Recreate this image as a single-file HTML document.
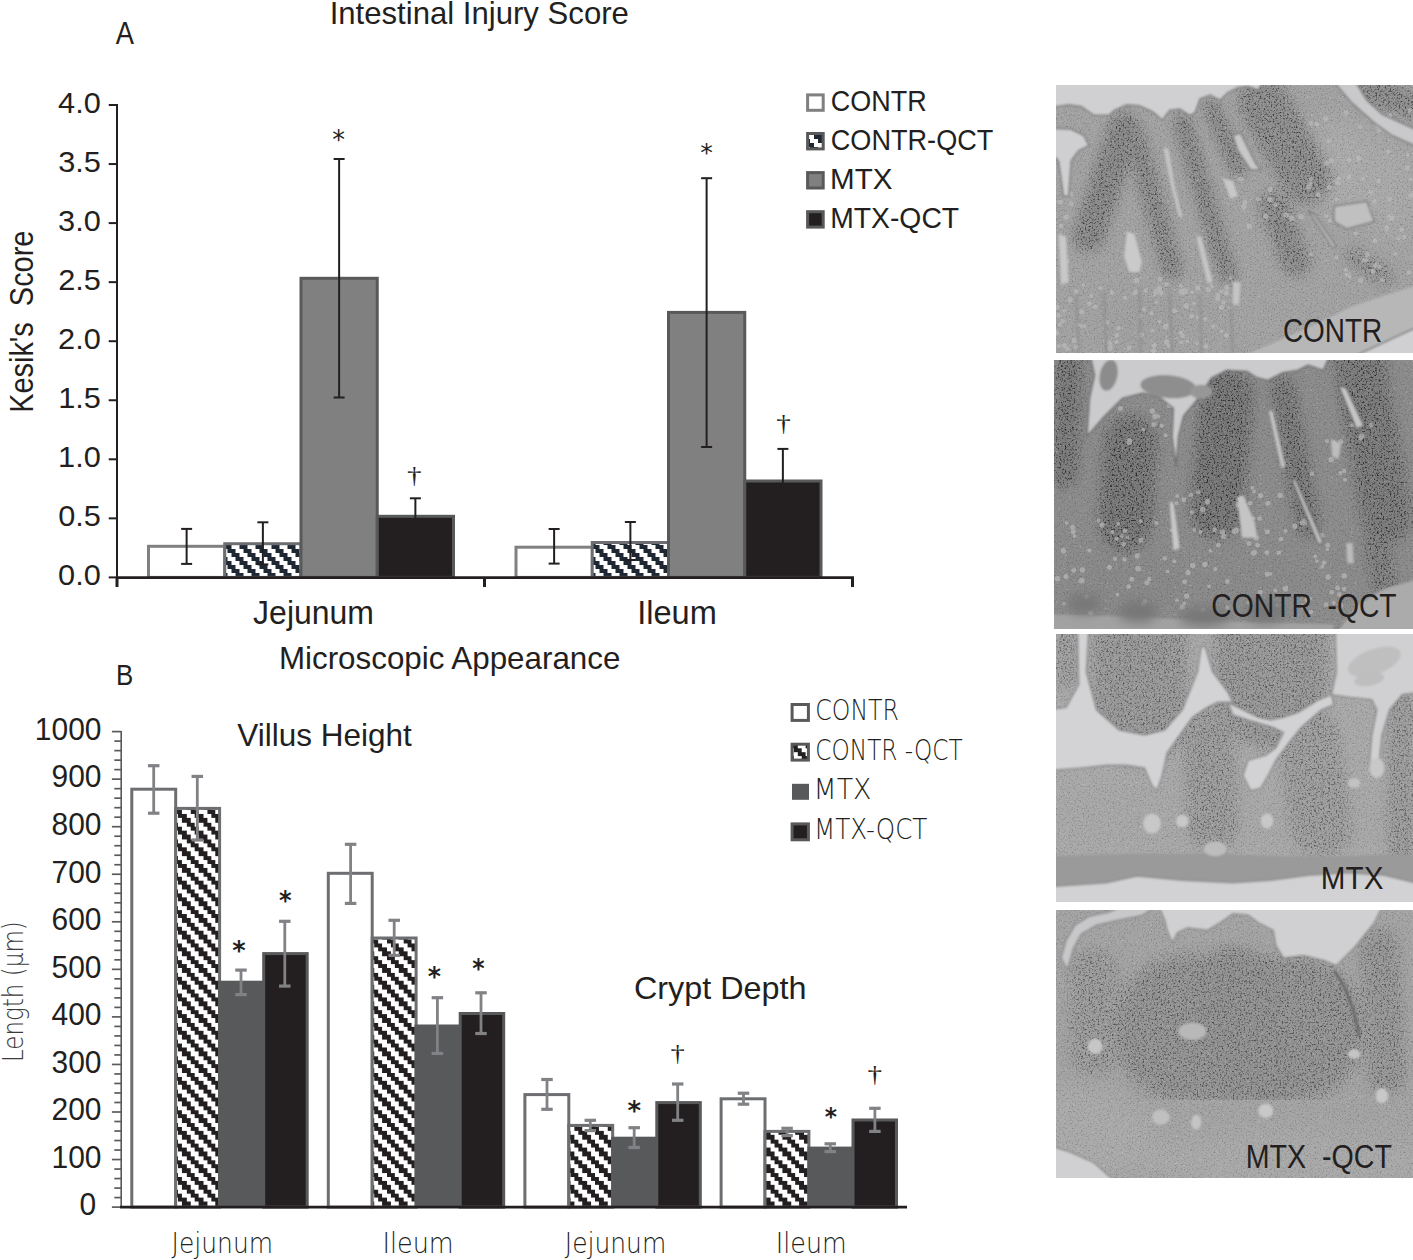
<!DOCTYPE html>
<html><head><meta charset="utf-8"><title>Intestinal Injury Score</title>
<style>
html,body{margin:0;padding:0;background:#fff;}
svg{display:block;}
text{font-family:"Liberation Sans",sans-serif;white-space:pre;}
text.l{font-family:"DejaVu Sans","Liberation Sans",sans-serif;font-weight:200;}
</style></head><body>
<svg width="1413" height="1260" viewBox="0 0 1413 1260">
<defs><pattern id="hA" patternUnits="userSpaceOnUse" x="239.5" y="545" width="16" height="16"><rect width="16" height="16" fill="#fff"/><g fill="#1f2733" shape-rendering="crispEdges"><rect x="0" y="0" width="4" height="4"/><rect x="4" y="0" width="4" height="4"/><rect x="4" y="4" width="4" height="4"/><rect x="8" y="4" width="4" height="4"/><rect x="8" y="8" width="4" height="4"/><rect x="12" y="8" width="4" height="4"/><rect x="0" y="12" width="4" height="4"/><rect x="12" y="12" width="4" height="4"/></g></pattern><pattern id="hB" patternUnits="userSpaceOnUse" x="178" y="864" width="16.68" height="16.68"><rect width="16.68" height="16.68" fill="#fff"/><g fill="#231f20" shape-rendering="crispEdges"><rect x="0.0" y="0.0" width="4.17" height="4.17"/><rect x="4.17" y="0.0" width="4.17" height="4.17"/><rect x="4.17" y="4.17" width="4.17" height="4.17"/><rect x="8.34" y="4.17" width="4.17" height="4.17"/><rect x="8.34" y="8.34" width="4.17" height="4.17"/><rect x="12.51" y="8.34" width="4.17" height="4.17"/><rect x="0.0" y="12.51" width="4.17" height="4.17"/><rect x="12.51" y="12.51" width="4.17" height="4.17"/></g></pattern><pattern id="hL" patternUnits="userSpaceOnUse" x="814" y="135" width="16" height="16"><rect width="16" height="16" fill="#fff"/><g fill="#1f2733" shape-rendering="crispEdges"><rect x="0" y="0" width="4" height="4"/><rect x="4" y="0" width="4" height="4"/><rect x="4" y="4" width="4" height="4"/><rect x="8" y="4" width="4" height="4"/><rect x="8" y="8" width="4" height="4"/><rect x="12" y="8" width="4" height="4"/><rect x="0" y="12" width="4" height="4"/><rect x="12" y="12" width="4" height="4"/></g></pattern><pattern id="hL2" patternUnits="userSpaceOnUse" x="790" y="744.4" width="15.6" height="15.6"><rect width="15.6" height="15.6" fill="#fff"/><g fill="#231f20" shape-rendering="crispEdges"><rect x="0.0" y="0.0" width="3.9" height="3.9"/><rect x="3.9" y="0.0" width="3.9" height="3.9"/><rect x="3.9" y="3.9" width="3.9" height="3.9"/><rect x="7.8" y="3.9" width="3.9" height="3.9"/><rect x="7.8" y="7.8" width="3.9" height="3.9"/><rect x="11.7" y="7.8" width="3.9" height="3.9"/><rect x="0.0" y="11.7" width="3.9" height="3.9"/><rect x="11.7" y="11.7" width="3.9" height="3.9"/></g></pattern></defs>
<rect width="1413" height="1260" fill="#fff"/>
<defs><filter id="spk" x="0" y="0" width="100%" height="100%" filterUnits="objectBoundingBox"><feTurbulence type="fractalNoise" baseFrequency="0.14" numOctaves="2" seed="4"/><feColorMatrix type="matrix" values="0 0 0 0 0  0 0 0 0 0  0 0 0 0 0  4 0 0 0 -2.1"/></filter><filter id="spk2" x="0" y="0" width="100%" height="100%" filterUnits="objectBoundingBox"><feTurbulence type="fractalNoise" baseFrequency="0.12" numOctaves="1" seed="11"/><feColorMatrix type="matrix" values="0 0 0 0 1  0 0 0 0 1  0 0 0 0 1  4 0 0 0 -2.6"/></filter><filter id="b20" x="-20%" y="-20%" width="140%" height="140%"><feGaussianBlur stdDeviation="22"/></filter><filter id="b40" x="-30%" y="-30%" width="160%" height="160%"><feGaussianBlur stdDeviation="45"/></filter><filter id="b6" x="-5%" y="-5%" width="110%" height="110%"><feGaussianBlur stdDeviation="5"/></filter><filter id="b2" x="-5%" y="-5%" width="110%" height="110%"><feGaussianBlur stdDeviation="2.5"/></filter><filter id="spk3" x="0" y="0" width="100%" height="100%" filterUnits="objectBoundingBox"><feTurbulence type="fractalNoise" baseFrequency="0.16" numOctaves="2" seed="21"/><feColorMatrix type="matrix" values="0 0 0 0 0  0 0 0 0 0  0 0 0 0 0  3 0 0 0 -1.55"/></filter><clipPath id="c0"><rect x="1056" y="85" width="357" height="268"/></clipPath><clipPath id="c1"><rect x="1054" y="360" width="359" height="269"/></clipPath><clipPath id="c2"><rect x="1056" y="634" width="357" height="268"/></clipPath><clipPath id="c3"><rect x="1056" y="910" width="357" height="268"/></clipPath><mask id="m0" maskUnits="userSpaceOnUse" x="0" y="0" width="1413" height="1063"><g filter="url(#b20)"><path d="M270,170 L130,600" stroke="#fff" stroke-width="132.0" stroke-linecap="round" fill="none"/><path d="M310,200 L460,730" stroke="#fff" stroke-width="88.0" stroke-linecap="round" fill="none"/><path d="M500,150 L680,750" stroke="#fff" stroke-width="77.0" stroke-linecap="round" fill="none"/><path d="M615,90 L720,330" stroke="#fff" stroke-width="71.5" stroke-linecap="round" fill="none"/><path d="M820,70 L990,370" stroke="#fff" stroke-width="209.00000000000003" stroke-linecap="round" fill="none"/><path d="M860,480 L950,700" stroke="#fff" stroke-width="121.00000000000001" stroke-linecap="round" fill="none"/><path d="M1240,20 L1413,80" stroke="#fff" stroke-width="121.00000000000001" stroke-linecap="round" fill="none"/><path d="M1180,680 L1300,760" stroke="#fff" stroke-width="77.0" stroke-linecap="round" fill="none"/></g></mask><mask id="m1" maskUnits="userSpaceOnUse" x="0" y="0" width="1413" height="1061"><g filter="url(#b20)"><path d="M60,0 L40,450" stroke="#fff" stroke-width="110.00000000000001" stroke-linecap="round" fill="none"/><path d="M300,320 L280,650" stroke="#fff" stroke-width="220.00000000000003" stroke-linecap="round" fill="none"/><path d="M680,140 L640,600" stroke="#fff" stroke-width="220.00000000000003" stroke-linecap="round" fill="none"/><path d="M900,110 L1000,650" stroke="#fff" stroke-width="99.00000000000001" stroke-linecap="round" fill="none"/><path d="M1200,0 L1310,620" stroke="#fff" stroke-width="209.00000000000003" stroke-linecap="round" fill="none"/><path d="M1270,720 L1300,880" stroke="#fff" stroke-width="99.00000000000001" stroke-linecap="round" fill="none"/></g></mask><mask id="m2" maskUnits="userSpaceOnUse" x="0" y="0" width="1413" height="1063"><g filter="url(#b20)"><path d="M330,0 L330,330" stroke="#fff" stroke-width="396.00000000000006" stroke-linecap="round" fill="none"/><path d="M850,0 L850,230" stroke="#fff" stroke-width="473.00000000000006" stroke-linecap="round" fill="none"/><path d="M600,360 L620,760" stroke="#fff" stroke-width="209.00000000000003" stroke-linecap="round" fill="none"/><path d="M1000,420 L1050,760" stroke="#fff" stroke-width="253.00000000000003" stroke-linecap="round" fill="none"/><path d="M1370,280 L1370,880" stroke="#fff" stroke-width="121.00000000000001" stroke-linecap="round" fill="none"/><path d="M40,0 L40,170" stroke="#fff" stroke-width="88.0" stroke-linecap="round" fill="none"/></g></mask><mask id="m3" maskUnits="userSpaceOnUse" x="0" y="0" width="1413" height="1063"><g filter="url(#b20)"><path d="M520,470 L930,470" stroke="#fff" stroke-width="616.0" stroke-linecap="round" fill="none"/><path d="M700,300 L800,650" stroke="#fff" stroke-width="330.0" stroke-linecap="round" fill="none"/><path d="M1280,150 L1310,650" stroke="#fff" stroke-width="165.0" stroke-linecap="round" fill="none"/><path d="M150,250 L150,560" stroke="#fff" stroke-width="198.00000000000003" stroke-linecap="round" fill="none"/></g></mask></defs>
<g clip-path="url(#c0)"><g transform="translate(1056,85) scale(0.25265)"><rect x="0" y="0" width="1413" height="1063" fill="#a4a4a4"/><g filter="url(#b40)"><ellipse cx="1150" cy="330" rx="150" ry="200" transform="rotate(-30 1150 330)" fill="#acacac"/><ellipse cx="1330" cy="420" rx="90" ry="200" transform="rotate(0 1330 420)" fill="#aaaaaa"/><ellipse cx="330" cy="920" rx="200" ry="120" transform="rotate(0 330 920)" fill="#a2a2a2"/></g><g filter="url(#b20)"><path d="M270,170 L130,600" stroke="#8e8e8e" stroke-width="120" stroke-linecap="round" fill="none"/><path d="M310,200 L460,730" stroke="#909090" stroke-width="80" stroke-linecap="round" fill="none"/><path d="M500,150 L680,750" stroke="#8f8f8f" stroke-width="70" stroke-linecap="round" fill="none"/><path d="M615,90 L720,330" stroke="#909090" stroke-width="65" stroke-linecap="round" fill="none"/><path d="M820,70 L990,370" stroke="#929292" stroke-width="190" stroke-linecap="round" fill="none"/><path d="M860,480 L950,700" stroke="#929292" stroke-width="110" stroke-linecap="round" fill="none"/><path d="M1240,20 L1413,80" stroke="#939393" stroke-width="110" stroke-linecap="round" fill="none"/><path d="M1180,680 L1300,760" stroke="#999999" stroke-width="70" stroke-linecap="round" fill="none"/></g><rect width="1413" height="1063" fill="#3a3a3a" filter="url(#spk)" opacity="0.55" mask="url(#m0)"/><rect width="1413" height="1063" filter="url(#spk3)" opacity="0.22"/><rect width="1413" height="1063" filter="url(#spk2)" opacity="0.35"/><g fill="#c0c0c0" opacity="0.6" filter="url(#b2)"><circle cx="102" cy="897" r="10.1"/><circle cx="494" cy="980" r="8.7"/><circle cx="560" cy="920" r="7.3"/><circle cx="319" cy="774" r="10.7"/><circle cx="663" cy="861" r="8.2"/><circle cx="538" cy="821" r="7.7"/><circle cx="132" cy="864" r="9.5"/><circle cx="674" cy="823" r="10.8"/><circle cx="389" cy="1031" r="10.3"/><circle cx="112" cy="955" r="7.5"/><circle cx="4" cy="879" r="10.1"/><circle cx="396" cy="818" r="10.4"/><circle cx="640" cy="831" r="8.8"/><circle cx="446" cy="1032" r="7.5"/><circle cx="388" cy="1052" r="9.4"/><circle cx="502" cy="993" r="9.0"/><circle cx="203" cy="938" r="9.1"/><circle cx="240" cy="1017" r="8.5"/><circle cx="338" cy="989" r="10.3"/><circle cx="623" cy="956" r="8.0"/><circle cx="593" cy="1034" r="9.9"/><circle cx="537" cy="915" r="9.0"/><circle cx="408" cy="804" r="9.7"/><circle cx="603" cy="810" r="10.0"/><circle cx="494" cy="796" r="7.2"/><circle cx="417" cy="826" r="8.2"/><circle cx="435" cy="956" r="10.0"/><circle cx="398" cy="860" r="7.1"/><circle cx="80" cy="818" r="9.1"/><circle cx="504" cy="823" r="8.6"/><circle cx="655" cy="881" r="9.9"/><circle cx="433" cy="959" r="8.9"/><circle cx="382" cy="971" r="7.6"/><circle cx="559" cy="1023" r="7.2"/><circle cx="139" cy="835" r="7.4"/><circle cx="98" cy="953" r="7.5"/><circle cx="47" cy="1045" r="8.6"/><circle cx="378" cy="903" r="8.4"/><circle cx="318" cy="818" r="9.3"/><circle cx="176" cy="804" r="7.8"/><circle cx="289" cy="1040" r="9.4"/><circle cx="687" cy="881" r="8.0"/><circle cx="497" cy="817" r="11.0"/><circle cx="273" cy="842" r="8.1"/><circle cx="213" cy="1042" r="11.0"/><circle cx="391" cy="830" r="7.0"/><circle cx="56" cy="850" r="9.6"/><circle cx="438" cy="1017" r="10.3"/><circle cx="247" cy="963" r="8.8"/><circle cx="510" cy="815" r="10.9"/><circle cx="16" cy="946" r="8.4"/><circle cx="561" cy="803" r="10.6"/><circle cx="2" cy="981" r="9.8"/><circle cx="355" cy="813" r="8.5"/><circle cx="313" cy="824" r="7.6"/><circle cx="590" cy="925" r="8.1"/><circle cx="438" cy="951" r="7.5"/><circle cx="409" cy="936" r="7.4"/><circle cx="211" cy="1020" r="9.3"/><circle cx="156" cy="878" r="8.8"/><circle cx="496" cy="1019" r="7.3"/><circle cx="33" cy="893" r="7.1"/><circle cx="108" cy="792" r="7.4"/><circle cx="438" cy="789" r="9.3"/><circle cx="676" cy="802" r="10.0"/><circle cx="409" cy="811" r="10.8"/><circle cx="516" cy="874" r="10.6"/><circle cx="73" cy="1011" r="10.4"/><circle cx="81" cy="1036" r="10.1"/><circle cx="640" cy="845" r="10.0"/><circle cx="546" cy="865" r="7.1"/><circle cx="10" cy="912" r="9.2"/><circle cx="88" cy="950" r="7.2"/><circle cx="335" cy="914" r="7.8"/><circle cx="33" cy="1032" r="10.4"/><circle cx="412" cy="769" r="9.1"/><circle cx="674" cy="991" r="9.8"/><circle cx="28" cy="934" r="7.9"/><circle cx="691" cy="763" r="7.9"/><circle cx="616" cy="796" r="8.2"/><circle cx="214" cy="1025" r="9.8"/><circle cx="654" cy="818" r="7.4"/><circle cx="240" cy="991" r="9.5"/><circle cx="655" cy="975" r="7.3"/><circle cx="221" cy="821" r="8.1"/><circle cx="467" cy="894" r="10.0"/><circle cx="11" cy="1034" r="7.6"/><circle cx="520" cy="1014" r="7.2"/><circle cx="380" cy="1053" r="7.0"/><circle cx="348" cy="888" r="8.5"/><circle cx="1080" cy="223" r="8.1"/><circle cx="1090" cy="300" r="10.6"/><circle cx="1392" cy="277" r="7.1"/><circle cx="1110" cy="682" r="7.7"/><circle cx="1273" cy="163" r="8.4"/><circle cx="1070" cy="519" r="8.5"/><circle cx="1320" cy="452" r="8.6"/><circle cx="1009" cy="670" r="7.2"/><circle cx="1206" cy="772" r="10.2"/><circle cx="1147" cy="732" r="8.0"/><circle cx="1240" cy="491" r="9.9"/><circle cx="1119" cy="370" r="8.3"/><circle cx="1379" cy="602" r="8.4"/><circle cx="1320" cy="520" r="8.0"/><circle cx="1206" cy="166" r="7.8"/><circle cx="1032" cy="155" r="9.5"/><circle cx="1343" cy="668" r="7.9"/><circle cx="1391" cy="328" r="9.8"/><circle cx="1246" cy="424" r="9.8"/><circle cx="1368" cy="573" r="9.0"/><circle cx="1356" cy="607" r="8.5"/><circle cx="1404" cy="374" r="7.2"/><circle cx="1398" cy="741" r="9.1"/><circle cx="1310" cy="573" r="7.4"/><circle cx="1329" cy="527" r="10.9"/><circle cx="1198" cy="289" r="10.1"/><circle cx="1228" cy="693" r="7.2"/><circle cx="1283" cy="719" r="7.7"/><circle cx="1037" cy="434" r="9.6"/><circle cx="1261" cy="460" r="8.4"/><circle cx="1293" cy="772" r="9.0"/><circle cx="1163" cy="759" r="7.7"/><circle cx="1232" cy="671" r="10.2"/><circle cx="1309" cy="563" r="8.8"/><circle cx="1399" cy="101" r="8.7"/><circle cx="1186" cy="588" r="8.1"/><circle cx="1082" cy="405" r="9.5"/><circle cx="1218" cy="695" r="8.9"/><circle cx="1085" cy="537" r="8.6"/><circle cx="1010" cy="373" r="7.4"/><circle cx="1264" cy="714" r="9.9"/><circle cx="1395" cy="197" r="10.3"/><circle cx="1315" cy="263" r="8.9"/><circle cx="1071" cy="310" r="9.1"/><circle cx="1160" cy="365" r="9.8"/><circle cx="1280" cy="179" r="9.3"/><circle cx="1321" cy="122" r="10.0"/><circle cx="1008" cy="391" r="8.5"/><circle cx="1008" cy="151" r="9.7"/><circle cx="1110" cy="453" r="7.7"/><circle cx="1254" cy="736" r="10.0"/><circle cx="1151" cy="751" r="8.4"/><circle cx="1115" cy="387" r="10.9"/><circle cx="1160" cy="298" r="9.2"/><circle cx="1263" cy="616" r="9.8"/><circle cx="1278" cy="380" r="8.8"/><circle cx="1405" cy="436" r="10.0"/><circle cx="1148" cy="108" r="8.6"/><circle cx="1216" cy="371" r="7.8"/><circle cx="1067" cy="134" r="9.8"/><circle cx="830" cy="519" r="10.5"/><circle cx="911" cy="515" r="10.6"/><circle cx="969" cy="520" r="10.6"/><circle cx="765" cy="559" r="10.6"/><circle cx="933" cy="527" r="10.0"/><circle cx="847" cy="454" r="10.7"/><circle cx="743" cy="482" r="10.7"/><circle cx="736" cy="374" r="8.2"/><circle cx="799" cy="452" r="7.9"/><circle cx="727" cy="372" r="8.9"/><circle cx="691" cy="418" r="7.7"/><circle cx="868" cy="476" r="7.9"/><circle cx="1000" cy="403" r="10.6"/><circle cx="748" cy="464" r="9.4"/><circle cx="848" cy="414" r="10.2"/><circle cx="37" cy="524" r="8.9"/><circle cx="17" cy="463" r="9.9"/><circle cx="43" cy="698" r="9.9"/><circle cx="60" cy="431" r="8.1"/><circle cx="60" cy="470" r="9.3"/><circle cx="52" cy="350" r="7.5"/><circle cx="28" cy="380" r="7.2"/><circle cx="43" cy="520" r="8.8"/><circle cx="38" cy="422" r="8.6"/><circle cx="20" cy="558" r="8.8"/></g><g filter="url(#b6)"><path d="M700,1089 L859,1021 L1057,934 L1156,883 L1306,831 L1443,788 L1443,952 L1147,1089Z" fill="#b7b7b7"/><path d="M1147,1089 L1443,952 L1443,1089Z" fill="#d0d0d2" stroke="#7e7e7e" stroke-width="6"/><path d="M-30,-30 L830,-30 L800,20 L760,5 L720,10 L680,30 L650,60 L610,40 L570,55 L550,110 L530,120 L490,95 L450,100 L420,140 L400,120 L380,105 L330,82 L280,78 L230,100 L210,120 L150,120 L100,85 L50,78 L-30,90Z" fill="#d0d0d2" stroke="#7e7e7e" stroke-width="6"/><path d="M1085,-30 L1175,-30 L1230,60 L1290,115 L1443,185 L1443,250 L1330,200 L1260,150 L1170,70Z" fill="#c9c9cb" stroke="#7e7e7e" stroke-width="6"/><path d="M-30,170 L60,175 L110,200 L130,240 L90,260 L60,300 L50,440 L30,440 L10,300 L-30,260Z" fill="#cfcfd1" stroke="#7e7e7e" stroke-width="6"/><path d="M425,250 L445,250 L470,400 L500,520 L488,525 L455,400Z" fill="#c4c4c4"/><path d="M700,200 L730,190 L790,310 L810,335 L770,335 L720,260Z" fill="#c8c8c8" stroke="#7e7e7e" stroke-width="6"/><path d="M660,370 L700,380 L720,440 L690,450Z" fill="#c8c8c8"/><path d="M555,600 L575,600 L620,780 L600,785Z" fill="#c6c6c6"/><path d="M280,580 L310,590 L340,700 L330,740 L290,740 L270,680Z" fill="#cacaca"/><path d="M10,590 L40,600 L50,780 L20,790Z" fill="#c8c8c8"/><path d="M1000,500 L1020,510 L1110,640 L1095,645Z" fill="#c2c2c2" stroke="#7e7e7e" stroke-width="6"/><path d="M1100,480 L1230,460 L1260,540 L1150,570 L1100,540Z" fill="#c0c0c0" stroke="#7e7e7e" stroke-width="6"/><path d="M700,780 L730,780 L725,870 L700,870Z" fill="#c4c4c4"/></g><g filter="url(#b6)" stroke="#8c8c8c" stroke-width="12" fill="none" opacity="0.55"><path d="M190,820 L200,1061"/><path d="M330,800 L335,1061"/><path d="M450,810 L460,1061"/><path d="M570,830 L575,1061"/><path d="M80,830 L90,1061"/><path d="M690,860 L700,1061"/></g></g></g>
<g clip-path="url(#c1)"><g transform="translate(1054,360) scale(0.25407)"><rect x="0" y="0" width="1413" height="1061" fill="#8d8d8d"/><g filter="url(#b40)"><ellipse cx="300" cy="860" rx="250" ry="120" transform="rotate(0 300 860)" fill="#8a8a8a"/><ellipse cx="750" cy="860" rx="250" ry="120" transform="rotate(0 750 860)" fill="#8b8b8b"/><ellipse cx="1150" cy="860" rx="150" ry="110" transform="rotate(0 1150 860)" fill="#8c8c8c"/></g><g filter="url(#b20)"><path d="M60,0 L40,450" stroke="#7f7f7f" stroke-width="100" stroke-linecap="round" fill="none"/><path d="M300,320 L280,650" stroke="#7d7d7d" stroke-width="200" stroke-linecap="round" fill="none"/><path d="M680,140 L640,600" stroke="#7c7c7c" stroke-width="200" stroke-linecap="round" fill="none"/><path d="M900,110 L1000,650" stroke="#7f7f7f" stroke-width="90" stroke-linecap="round" fill="none"/><path d="M1200,0 L1310,620" stroke="#808080" stroke-width="190" stroke-linecap="round" fill="none"/><path d="M1270,720 L1300,880" stroke="#848484" stroke-width="90" stroke-linecap="round" fill="none"/></g><rect width="1413" height="1061" fill="#3a3a3a" filter="url(#spk)" opacity="0.65" mask="url(#m1)"/><rect width="1413" height="1061" filter="url(#spk3)" opacity="0.22"/><rect width="1413" height="1061" filter="url(#spk2)" opacity="0.35"/><g fill="#c0c0c0" opacity="0.6" filter="url(#b2)"><circle cx="668" cy="694" r="10.9"/><circle cx="1063" cy="798" r="9.7"/><circle cx="247" cy="704" r="8.2"/><circle cx="796" cy="701" r="10.9"/><circle cx="81" cy="693" r="7.4"/><circle cx="885" cy="759" r="8.9"/><circle cx="375" cy="862" r="8.6"/><circle cx="240" cy="783" r="8.2"/><circle cx="127" cy="933" r="9.7"/><circle cx="765" cy="955" r="8.6"/><circle cx="436" cy="781" r="8.6"/><circle cx="769" cy="622" r="8.9"/><circle cx="615" cy="751" r="7.1"/><circle cx="810" cy="624" r="9.3"/><circle cx="176" cy="633" r="7.7"/><circle cx="76" cy="677" r="9.7"/><circle cx="838" cy="758" r="9.6"/><circle cx="546" cy="809" r="10.5"/><circle cx="358" cy="951" r="9.8"/><circle cx="786" cy="622" r="7.3"/><circle cx="37" cy="751" r="10.8"/><circle cx="1007" cy="939" r="7.5"/><circle cx="812" cy="914" r="10.2"/><circle cx="911" cy="673" r="7.7"/><circle cx="911" cy="901" r="10.6"/><circle cx="513" cy="958" r="7.6"/><circle cx="1101" cy="956" r="8.4"/><circle cx="78" cy="828" r="9.8"/><circle cx="403" cy="642" r="8.1"/><circle cx="948" cy="654" r="10.7"/><circle cx="288" cy="698" r="7.4"/><circle cx="1128" cy="962" r="8.3"/><circle cx="110" cy="868" r="10.6"/><circle cx="14" cy="861" r="10.4"/><circle cx="528" cy="836" r="10.2"/><circle cx="274" cy="724" r="9.6"/><circle cx="635" cy="823" r="8.3"/><circle cx="1078" cy="729" r="9.7"/><circle cx="1028" cy="772" r="7.2"/><circle cx="253" cy="645" r="7.6"/><circle cx="139" cy="750" r="8.5"/><circle cx="514" cy="873" r="9.7"/><circle cx="790" cy="758" r="9.7"/><circle cx="632" cy="668" r="9.2"/><circle cx="366" cy="877" r="9.9"/><circle cx="277" cy="785" r="8.8"/><circle cx="341" cy="635" r="7.2"/><circle cx="1142" cy="901" r="8.8"/><circle cx="767" cy="722" r="9.8"/><circle cx="1093" cy="914" r="8.9"/><circle cx="1131" cy="970" r="7.2"/><circle cx="474" cy="792" r="8.1"/><circle cx="709" cy="675" r="10.0"/><circle cx="986" cy="643" r="9.8"/><circle cx="306" cy="863" r="9.8"/><circle cx="1123" cy="923" r="8.4"/><circle cx="840" cy="676" r="9.9"/><circle cx="480" cy="721" r="8.0"/><circle cx="249" cy="923" r="7.4"/><circle cx="267" cy="693" r="7.6"/><circle cx="839" cy="843" r="9.7"/><circle cx="1035" cy="791" r="7.2"/><circle cx="218" cy="816" r="9.9"/><circle cx="1056" cy="814" r="7.9"/><circle cx="682" cy="975" r="8.3"/><circle cx="1071" cy="963" r="9.3"/><circle cx="553" cy="669" r="7.4"/><circle cx="47" cy="852" r="9.9"/><circle cx="1142" cy="849" r="11.0"/><circle cx="463" cy="671" r="7.2"/><circle cx="331" cy="822" r="10.9"/><circle cx="342" cy="709" r="9.9"/><circle cx="447" cy="832" r="7.6"/><circle cx="981" cy="969" r="10.0"/><circle cx="1076" cy="746" r="7.1"/><circle cx="351" cy="961" r="8.9"/><circle cx="230" cy="677" r="7.7"/><circle cx="505" cy="972" r="10.5"/><circle cx="871" cy="907" r="7.8"/><circle cx="894" cy="705" r="9.1"/><circle cx="39" cy="959" r="7.5"/><circle cx="682" cy="872" r="9.6"/><circle cx="785" cy="760" r="10.2"/><circle cx="1079" cy="854" r="10.9"/><circle cx="977" cy="641" r="9.7"/><circle cx="105" cy="871" r="8.5"/><circle cx="983" cy="637" r="10.8"/><circle cx="50" cy="642" r="7.0"/><circle cx="144" cy="995" r="10.3"/><circle cx="1054" cy="691" r="9.8"/><circle cx="914" cy="896" r="8.1"/><circle cx="1116" cy="897" r="9.7"/><circle cx="327" cy="771" r="10.0"/><circle cx="594" cy="805" r="10.7"/><circle cx="484" cy="946" r="7.2"/><circle cx="610" cy="891" r="7.0"/><circle cx="801" cy="729" r="9.5"/><circle cx="717" cy="672" r="10.8"/><circle cx="279" cy="672" r="8.8"/><circle cx="74" cy="658" r="10.0"/><circle cx="112" cy="826" r="10.5"/><circle cx="522" cy="929" r="10.3"/><circle cx="189" cy="649" r="10.1"/><circle cx="996" cy="944" r="9.9"/><circle cx="586" cy="984" r="10.0"/><circle cx="877" cy="966" r="7.2"/><circle cx="852" cy="842" r="7.1"/><circle cx="294" cy="892" r="9.1"/><circle cx="647" cy="729" r="9.3"/><circle cx="1011" cy="992" r="9.2"/><circle cx="787" cy="517" r="7.6"/><circle cx="715" cy="665" r="7.5"/><circle cx="542" cy="600" r="8.2"/><circle cx="539" cy="532" r="8.7"/><circle cx="813" cy="534" r="10.2"/><circle cx="511" cy="550" r="9.7"/><circle cx="483" cy="564" r="7.6"/><circle cx="577" cy="677" r="7.6"/><circle cx="782" cy="682" r="8.0"/><circle cx="842" cy="564" r="10.1"/><circle cx="724" cy="570" r="10.5"/><circle cx="772" cy="564" r="9.3"/><circle cx="604" cy="557" r="10.8"/><circle cx="890" cy="532" r="10.7"/><circle cx="780" cy="502" r="7.4"/><circle cx="663" cy="677" r="10.5"/><circle cx="585" cy="589" r="10.7"/><circle cx="568" cy="521" r="8.7"/><circle cx="766" cy="675" r="10.5"/><circle cx="485" cy="535" r="7.5"/><circle cx="387" cy="201" r="10.7"/><circle cx="392" cy="254" r="9.7"/><circle cx="297" cy="324" r="10.4"/><circle cx="439" cy="296" r="7.7"/><circle cx="262" cy="191" r="9.9"/><circle cx="296" cy="317" r="10.4"/><circle cx="410" cy="221" r="7.6"/><circle cx="436" cy="143" r="9.0"/><circle cx="424" cy="259" r="7.9"/><circle cx="452" cy="180" r="8.7"/><circle cx="351" cy="275" r="7.2"/><circle cx="397" cy="222" r="10.2"/><circle cx="1091" cy="393" r="10.9"/><circle cx="1015" cy="448" r="8.9"/><circle cx="1075" cy="319" r="7.9"/><circle cx="1211" cy="301" r="10.8"/><circle cx="1129" cy="321" r="10.1"/><circle cx="1145" cy="471" r="7.6"/><circle cx="1173" cy="257" r="7.7"/><circle cx="1104" cy="328" r="8.1"/><circle cx="1142" cy="437" r="8.7"/><circle cx="1127" cy="445" r="7.9"/><circle cx="1249" cy="256" r="8.5"/><circle cx="1206" cy="309" r="8.3"/></g><g filter="url(#b6)"><path d="M140,-30 L1090,-30 L1060,40 L1000,20 L960,40 L900,50 L840,80 L800,70 L760,45 L680,40 L620,70 L560,160 L510,220 L490,300 L480,420 L465,300 L470,190 L420,150 L350,130 L270,150 L200,220 L130,300 L140,150 L160,60Z" fill="#cbcbcd" stroke="#707070" stroke-width="6"/><ellipse cx="215" cy="60" rx="35" ry="62" transform="rotate(12 215 60)" fill="#8c8c8c"/><ellipse cx="450" cy="105" rx="110" ry="45" transform="rotate(5 450 105)" fill="#8e8e8e"/><ellipse cx="580" cy="125" rx="45" ry="28" transform="rotate(0 580 125)" fill="#979797"/><path d="M845,200 L860,200 L910,420 L895,425Z" fill="#c4c4c4"/><path d="M1120,100 L1150,110 L1220,260 L1190,270Z" fill="#c6c6c6" stroke="#707070" stroke-width="6"/><path d="M455,560 L470,560 L495,740 L470,750Z" fill="#c8c8c8"/><path d="M720,540 L745,530 L790,640 L800,700 L740,700Z" fill="#c4c4c4"/><path d="M935,470 L950,470 L1060,720 L1040,725Z" fill="#c0c0c0" stroke="#707070" stroke-width="6"/><path d="M1090,310 L1130,330 L1120,390 L1095,380Z" fill="#bdbdbd"/><path d="M1150,720 L1175,720 L1180,800 L1155,800Z" fill="#bbbbbb"/><path d="M1443,860 L1443,1089 L1100,1089 L1200,960 L1300,900Z" fill="#ababab"/><path d="M-30,1000 L300,1010 L700,1030 L1100,1040 L1100,1089 L-30,1089Z" fill="#a2a2a2"/></g><g filter="url(#b20)" fill="#777777"><ellipse cx="330" cy="990" rx="80" ry="45"/><ellipse cx="590" cy="1010" rx="100" ry="40"/><ellipse cx="830" cy="990" rx="80" ry="45"/><ellipse cx="120" cy="960" rx="70" ry="40"/></g></g></g>
<g clip-path="url(#c2)"><g transform="translate(1056,634) scale(0.25265)"><rect x="0" y="0" width="1413" height="1063" fill="#aaaaaa"/><g filter="url(#b40)"><ellipse cx="700" cy="700" rx="700" ry="150" transform="rotate(0 700 700)" fill="#a9a9a9"/></g><g filter="url(#b20)"><path d="M330,0 L330,330" stroke="#9d9d9d" stroke-width="360" stroke-linecap="round" fill="none"/><path d="M850,0 L850,230" stroke="#9c9c9c" stroke-width="430" stroke-linecap="round" fill="none"/><path d="M600,360 L620,760" stroke="#a0a0a0" stroke-width="190" stroke-linecap="round" fill="none"/><path d="M1000,420 L1050,760" stroke="#a2a2a2" stroke-width="230" stroke-linecap="round" fill="none"/><path d="M1370,280 L1370,880" stroke="#a0a0a0" stroke-width="110" stroke-linecap="round" fill="none"/><path d="M40,0 L40,170" stroke="#a2a2a2" stroke-width="80" stroke-linecap="round" fill="none"/></g><rect width="1413" height="1063" fill="#3a3a3a" filter="url(#spk)" opacity="0.42" mask="url(#m2)"/><rect width="1413" height="1063" filter="url(#spk3)" opacity="0.22"/><rect width="1413" height="1063" filter="url(#spk2)" opacity="0.35"/><g filter="url(#b6)"><path d="M-30,880 L300,870 L600,870 L900,880 L1100,880 L1443,870 L1443,990 L1300,955 L1150,945 L1000,955 L850,975 L700,985 L500,975 L320,958 L200,985 L-30,1000Z" fill="#9a9a9a"/><path d="M85,-30 L130,-30 L120,150 L160,300 L250,380 L350,400 L430,380 L500,300 L560,150 L575,50 L590,50 L620,150 L680,230 L700,270 L640,270 L600,290 L540,330 L490,400 L440,470 L420,560 L400,620 L380,600 L350,530 L280,520 L200,520 L100,530 L-30,540 L-30,300 L40,290 L90,200Z" fill="#d3d3d5" stroke="#8e8e8e" stroke-width="6"/><path d="M1105,-30 L1443,-30 L1443,230 L1370,240 L1320,300 L1290,400 L1280,500 L1260,540 L1240,520 L1250,400 L1270,300 L1250,260 L1160,250 L1090,240 L1110,150Z" fill="#d0d0d2" stroke="#8e8e8e" stroke-width="6"/><path d="M1090,240 L1040,260 L960,310 L900,330 L850,340 L800,330 L720,290 L680,270 L700,320 L760,340 L860,370 L900,390 L870,450 L830,480 L760,500 L740,560 L770,620 L810,610 L840,560 L870,500 L930,420 L970,370 L1050,300 L1100,280Z" fill="#d2d2d4" stroke="#8e8e8e" stroke-width="6"/><path d="M-30,1000 L200,985 L320,958 L500,975 L700,985 L850,975 L1000,955 L1150,945 L1300,955 L1443,990 L1443,1089 L-30,1089Z" fill="#d2d2d4" stroke="#8e8e8e" stroke-width="6"/><ellipse cx="380" cy="750" rx="35" ry="40" transform="rotate(0 380 750)" fill="#c8c8c8"/><ellipse cx="500" cy="740" rx="25" ry="25" transform="rotate(0 500 740)" fill="#c8c8c8"/><ellipse cx="835" cy="740" rx="25" ry="30" transform="rotate(0 835 740)" fill="#c8c8c8"/><ellipse cx="630" cy="850" rx="45" ry="30" transform="rotate(0 630 850)" fill="#bdbdbd"/><ellipse cx="1270" cy="530" rx="30" ry="40" transform="rotate(0 1270 530)" fill="#c8c8c8"/><ellipse cx="1180" cy="590" rx="25" ry="20" transform="rotate(0 1180 590)" fill="#c2c2c2"/><ellipse cx="1260" cy="110" rx="110" ry="50" transform="rotate(-20 1260 110)" fill="#bfbfbf"/><ellipse cx="1240" cy="180" rx="60" ry="25" transform="rotate(-10 1240 180)" fill="#bebebe"/></g></g></g>
<g clip-path="url(#c3)"><g transform="translate(1056,910) scale(0.25265)"><rect x="0" y="0" width="1413" height="1063" fill="#a5a5a5"/><g filter="url(#b40)"><ellipse cx="0" cy="900" rx="400" ry="200" transform="rotate(0 0 900)" fill="#ababab"/><ellipse cx="900" cy="1000" rx="600" ry="120" transform="rotate(0 900 1000)" fill="#aaaaaa"/></g><g filter="url(#b20)"><path d="M520,470 L930,470" stroke="#989898" stroke-width="560" stroke-linecap="round" fill="none"/><path d="M700,300 L800,650" stroke="#969696" stroke-width="300" stroke-linecap="round" fill="none"/><path d="M1280,150 L1310,650" stroke="#9b9b9b" stroke-width="150" stroke-linecap="round" fill="none"/><path d="M150,250 L150,560" stroke="#a0a0a0" stroke-width="180" stroke-linecap="round" fill="none"/></g><rect width="1413" height="1063" fill="#3a3a3a" filter="url(#spk)" opacity="0.45" mask="url(#m3)"/><rect width="1413" height="1063" filter="url(#spk3)" opacity="0.22"/><rect width="1413" height="1063" filter="url(#spk2)" opacity="0.35"/><g filter="url(#b6)"><path d="M400,-30 L1300,-30 L1260,50 L1180,150 L1110,220 L1060,200 L980,180 L900,190 L870,140 L860,80 L800,50 L760,20 L700,15 L650,50 L600,80 L520,70 L480,90 L460,130 L440,80 L430,40Z" fill="#d0d0d2" stroke="#8e8e8e" stroke-width="6"/><path d="M45,235 L70,150 L100,95 L160,60 L250,40 L340,22 L420,-30 L290,-30 L210,8 L130,25 L75,60 L40,120 L20,190Z" fill="#c8c8ca" stroke="#8e8e8e" stroke-width="6"/><path d="M-30,930 L60,960 L150,1000 L250,1089 L-30,1089Z" fill="#d0d0d2" stroke="#8e8e8e" stroke-width="6"/><ellipse cx="540" cy="480" rx="55" ry="35" transform="rotate(0 540 480)" fill="#b8b8b8"/><ellipse cx="155" cy="540" rx="30" ry="30" transform="rotate(0 155 540)" fill="#c6c6c6"/><ellipse cx="415" cy="820" rx="35" ry="30" transform="rotate(0 415 820)" fill="#c0c0c0"/><ellipse cx="830" cy="795" rx="30" ry="28" transform="rotate(0 830 795)" fill="#c8c8c8"/><ellipse cx="1290" cy="735" rx="25" ry="30" transform="rotate(0 1290 735)" fill="#c8c8c8"/><ellipse cx="555" cy="840" rx="20" ry="30" transform="rotate(0 555 840)" fill="#c4c4c4"/><ellipse cx="1180" cy="570" rx="25" ry="20" transform="rotate(0 1180 570)" fill="#c4c4c4"/></g><path d="M1100,240 Q1170,330 1200,500" stroke="#6a6a6a" stroke-width="12" fill="none" filter="url(#b6)"/></g></g>
<text x="1282.88" y="341.60" font-size="32.41" textLength="99.31" lengthAdjust="spacingAndGlyphs" fill="#231f20">CONTR</text>
<text x="1211.36" y="616.50" font-size="32.85" textLength="185.28" lengthAdjust="spacingAndGlyphs" fill="#231f20">CONTR  -QCT</text>
<text x="1320.87" y="888.90" font-size="31.98" textLength="62.55" lengthAdjust="spacingAndGlyphs" fill="#231f20">MTX</text>
<text x="1245.75" y="1167.80" font-size="32.41" textLength="146.20" lengthAdjust="spacingAndGlyphs" fill="#231f20">MTX  -QCT</text>
<text x="115.85" y="44.00" font-size="31.98" textLength="18.21" lengthAdjust="spacingAndGlyphs" fill="#231f20">A</text>
<text x="329.63" y="23.80" font-size="31.25" textLength="299.25" lengthAdjust="spacingAndGlyphs" fill="#231f20">Intestinal Injury Score</text>
<line x1="108.7" y1="577.40" x2="117" y2="577.40" stroke="#231f20" stroke-width="2"/>
<text x="58.09" y="585.20" font-size="30.08" textLength="42.71" lengthAdjust="spacingAndGlyphs" fill="#231f20">0.0</text>
<line x1="108.7" y1="518.35" x2="117" y2="518.35" stroke="#231f20" stroke-width="2"/>
<text x="58.18" y="526.15" font-size="30.08" textLength="42.71" lengthAdjust="spacingAndGlyphs" fill="#231f20">0.5</text>
<line x1="108.7" y1="459.30" x2="117" y2="459.30" stroke="#231f20" stroke-width="2"/>
<text x="58.09" y="467.10" font-size="30.08" textLength="42.71" lengthAdjust="spacingAndGlyphs" fill="#231f20">1.0</text>
<line x1="108.7" y1="400.25" x2="117" y2="400.25" stroke="#231f20" stroke-width="2"/>
<text x="58.18" y="408.05" font-size="30.08" textLength="42.71" lengthAdjust="spacingAndGlyphs" fill="#231f20">1.5</text>
<line x1="108.7" y1="341.20" x2="117" y2="341.20" stroke="#231f20" stroke-width="2"/>
<text x="58.09" y="349.00" font-size="30.08" textLength="42.71" lengthAdjust="spacingAndGlyphs" fill="#231f20">2.0</text>
<line x1="108.7" y1="282.15" x2="117" y2="282.15" stroke="#231f20" stroke-width="2"/>
<text x="58.18" y="289.95" font-size="30.08" textLength="42.71" lengthAdjust="spacingAndGlyphs" fill="#231f20">2.5</text>
<line x1="108.7" y1="223.10" x2="117" y2="223.10" stroke="#231f20" stroke-width="2"/>
<text x="58.09" y="230.90" font-size="30.08" textLength="42.71" lengthAdjust="spacingAndGlyphs" fill="#231f20">3.0</text>
<line x1="108.7" y1="164.05" x2="117" y2="164.05" stroke="#231f20" stroke-width="2"/>
<text x="58.18" y="171.85" font-size="30.08" textLength="42.71" lengthAdjust="spacingAndGlyphs" fill="#231f20">3.5</text>
<line x1="108.7" y1="105.00" x2="117" y2="105.00" stroke="#231f20" stroke-width="2"/>
<text x="58.09" y="112.80" font-size="30.08" textLength="42.71" lengthAdjust="spacingAndGlyphs" fill="#231f20">4.0</text>
<line x1="117" y1="104" x2="117" y2="579" stroke="#231f20" stroke-width="2"/>
<rect x="148.50" y="546.30" width="76.25" height="31.10" fill="#ffffff" stroke="#808080" stroke-width="3"/>
<rect x="224.75" y="543.70" width="76.25" height="33.70" fill="url(#hA)" stroke="#6d6e71" stroke-width="3"/>
<rect x="301.00" y="278.30" width="76.25" height="299.10" fill="#808080" stroke="#58595b" stroke-width="3"/>
<rect x="377.25" y="516.30" width="76.25" height="61.10" fill="#231f20" stroke="#58595b" stroke-width="3"/>
<rect x="516.00" y="547.20" width="76.25" height="30.20" fill="#ffffff" stroke="#808080" stroke-width="3"/>
<rect x="592.25" y="542.50" width="76.25" height="34.90" fill="url(#hA)" stroke="#6d6e71" stroke-width="3"/>
<rect x="668.50" y="312.40" width="76.25" height="265.00" fill="#808080" stroke="#58595b" stroke-width="3"/>
<rect x="744.75" y="481.00" width="76.25" height="96.40" fill="#231f20" stroke="#58595b" stroke-width="3"/>
<line x1="186.62" y1="528.90" x2="186.62" y2="563.90" stroke="#231f20" stroke-width="2"/>
<line x1="181.12" y1="528.90" x2="192.12" y2="528.90" stroke="#231f20" stroke-width="2"/>
<line x1="181.12" y1="563.90" x2="192.12" y2="563.90" stroke="#231f20" stroke-width="2"/>
<line x1="262.88" y1="522.30" x2="262.88" y2="564.40" stroke="#231f20" stroke-width="2"/>
<line x1="257.38" y1="522.30" x2="268.38" y2="522.30" stroke="#231f20" stroke-width="2"/>
<line x1="257.38" y1="564.40" x2="268.38" y2="564.40" stroke="#231f20" stroke-width="2"/>
<line x1="339.12" y1="159.00" x2="339.12" y2="397.50" stroke="#231f20" stroke-width="2"/>
<line x1="333.62" y1="159.00" x2="344.62" y2="159.00" stroke="#231f20" stroke-width="2"/>
<line x1="333.62" y1="397.50" x2="344.62" y2="397.50" stroke="#231f20" stroke-width="2"/>
<line x1="415.38" y1="498.30" x2="415.38" y2="533.00" stroke="#231f20" stroke-width="2"/>
<line x1="409.88" y1="498.30" x2="420.88" y2="498.30" stroke="#231f20" stroke-width="2"/>
<line x1="409.88" y1="533.00" x2="420.88" y2="533.00" stroke="#231f20" stroke-width="2"/>
<line x1="554.12" y1="529.00" x2="554.12" y2="563.60" stroke="#231f20" stroke-width="2"/>
<line x1="548.62" y1="529.00" x2="559.62" y2="529.00" stroke="#231f20" stroke-width="2"/>
<line x1="548.62" y1="563.60" x2="559.62" y2="563.60" stroke="#231f20" stroke-width="2"/>
<line x1="630.38" y1="522.00" x2="630.38" y2="560.00" stroke="#231f20" stroke-width="2"/>
<line x1="624.88" y1="522.00" x2="635.88" y2="522.00" stroke="#231f20" stroke-width="2"/>
<line x1="624.88" y1="560.00" x2="635.88" y2="560.00" stroke="#231f20" stroke-width="2"/>
<line x1="706.62" y1="178.20" x2="706.62" y2="447.00" stroke="#231f20" stroke-width="2"/>
<line x1="701.12" y1="178.20" x2="712.12" y2="178.20" stroke="#231f20" stroke-width="2"/>
<line x1="701.12" y1="447.00" x2="712.12" y2="447.00" stroke="#231f20" stroke-width="2"/>
<line x1="782.88" y1="448.90" x2="782.88" y2="510.00" stroke="#231f20" stroke-width="2"/>
<line x1="777.38" y1="448.90" x2="788.38" y2="448.90" stroke="#231f20" stroke-width="2"/>
<line x1="777.38" y1="510.00" x2="788.38" y2="510.00" stroke="#231f20" stroke-width="2"/>
<line x1="116" y1="577.6" x2="854" y2="577.6" stroke="#231f20" stroke-width="2.6"/>
<line x1="117" y1="577" x2="117" y2="587" stroke="#231f20" stroke-width="3"/>
<line x1="484.5" y1="577" x2="484.5" y2="587" stroke="#231f20" stroke-width="3"/>
<line x1="852.5" y1="577" x2="852.5" y2="587" stroke="#231f20" stroke-width="3"/>
<text x="332.01" y="149.35" font-size="26.75" style='font-family:"DejaVu Sans",sans-serif;' transform="translate(338.70,0) scale(0.951,1) translate(-338.70,0)" fill="#231f20">*</text>
<text x="700.19" y="161.24" font-size="25.65" style='font-family:"DejaVu Sans",sans-serif;' transform="translate(706.60,0) scale(0.982,1) translate(-706.60,0)" fill="#231f20">*</text>
<text x="408.48" y="482.83" font-size="23.67" style='font-family:"Liberation Serif",serif;' transform="translate(414.40,0) scale(1.233,1) translate(-414.40,0)" fill="#231f20">†</text>
<text x="777.71" y="430.54" font-size="23.55" style='font-family:"Liberation Serif",serif;' transform="translate(783.60,0) scale(1.240,1) translate(-783.60,0)" fill="#231f20">†</text>
<text transform="translate(33.30,0) rotate(-90)" x="-412.87" y="0" font-size="32.70" textLength="182.26" lengthAdjust="spacingAndGlyphs" fill="#231f20">Kesik's  Score</text>
<text x="253.10" y="624.00" font-size="32.99" textLength="120.91" lengthAdjust="spacingAndGlyphs" fill="#231f20">Jejunum</text>
<text x="637.19" y="623.80" font-size="32.41" textLength="79.65" lengthAdjust="spacingAndGlyphs" fill="#231f20">Ileum</text>
<rect x="807.6" y="94.90" width="15.6" height="15.4" fill="#ffffff" stroke="#808080" stroke-width="3"/>
<rect x="807.6" y="133.50" width="15.6" height="15.4" fill="url(#hL)" stroke="#58595b" stroke-width="3"/>
<rect x="807.6" y="172.60" width="15.6" height="15.4" fill="#808080" stroke="#58595b" stroke-width="3"/>
<rect x="807.6" y="211.70" width="15.6" height="15.4" fill="#231f20" stroke="#58595b" stroke-width="3"/>
<text x="830.83" y="110.90" font-size="29.80" textLength="95.92" lengthAdjust="spacingAndGlyphs" fill="#231f20">CONTR</text>
<text x="830.82" y="149.80" font-size="29.80" textLength="162.50" lengthAdjust="spacingAndGlyphs" fill="#231f20">CONTR-QCT</text>
<text x="830.07" y="188.50" font-size="29.80" textLength="62.45" lengthAdjust="spacingAndGlyphs" fill="#231f20">MTX</text>
<text x="830.18" y="227.60" font-size="29.80" textLength="128.97" lengthAdjust="spacingAndGlyphs" fill="#231f20">MTX-QCT</text>
<text x="116.07" y="684.90" font-size="30.23" textLength="17.29" lengthAdjust="spacingAndGlyphs" fill="#231f20">B</text>
<text x="278.94" y="668.50" font-size="30.52" textLength="341.44" lengthAdjust="spacingAndGlyphs" fill="#231f20">Microscopic Appearance</text>
<text x="237.36" y="746.10" font-size="31.98" textLength="174.47" lengthAdjust="spacingAndGlyphs" fill="#231f20">Villus Height</text>
<text x="633.96" y="999.00" font-size="31.98" textLength="172.64" lengthAdjust="spacingAndGlyphs" fill="#231f20">Crypt Depth</text>
<line x1="111.9" y1="1207.10" x2="121" y2="1207.10" stroke="#5a5b5d" stroke-width="1.7"/>
<line x1="114.3" y1="1197.59" x2="121" y2="1197.59" stroke="#5a5b5d" stroke-width="1.7"/>
<line x1="114.3" y1="1188.08" x2="121" y2="1188.08" stroke="#5a5b5d" stroke-width="1.7"/>
<line x1="114.3" y1="1178.57" x2="121" y2="1178.57" stroke="#5a5b5d" stroke-width="1.7"/>
<line x1="114.3" y1="1169.06" x2="121" y2="1169.06" stroke="#5a5b5d" stroke-width="1.7"/>
<line x1="111.9" y1="1159.55" x2="121" y2="1159.55" stroke="#5a5b5d" stroke-width="1.7"/>
<line x1="114.3" y1="1150.04" x2="121" y2="1150.04" stroke="#5a5b5d" stroke-width="1.7"/>
<line x1="114.3" y1="1140.53" x2="121" y2="1140.53" stroke="#5a5b5d" stroke-width="1.7"/>
<line x1="114.3" y1="1131.02" x2="121" y2="1131.02" stroke="#5a5b5d" stroke-width="1.7"/>
<line x1="114.3" y1="1121.51" x2="121" y2="1121.51" stroke="#5a5b5d" stroke-width="1.7"/>
<line x1="111.9" y1="1112.00" x2="121" y2="1112.00" stroke="#5a5b5d" stroke-width="1.7"/>
<line x1="114.3" y1="1102.49" x2="121" y2="1102.49" stroke="#5a5b5d" stroke-width="1.7"/>
<line x1="114.3" y1="1092.98" x2="121" y2="1092.98" stroke="#5a5b5d" stroke-width="1.7"/>
<line x1="114.3" y1="1083.47" x2="121" y2="1083.47" stroke="#5a5b5d" stroke-width="1.7"/>
<line x1="114.3" y1="1073.96" x2="121" y2="1073.96" stroke="#5a5b5d" stroke-width="1.7"/>
<line x1="111.9" y1="1064.45" x2="121" y2="1064.45" stroke="#5a5b5d" stroke-width="1.7"/>
<line x1="114.3" y1="1054.94" x2="121" y2="1054.94" stroke="#5a5b5d" stroke-width="1.7"/>
<line x1="114.3" y1="1045.43" x2="121" y2="1045.43" stroke="#5a5b5d" stroke-width="1.7"/>
<line x1="114.3" y1="1035.92" x2="121" y2="1035.92" stroke="#5a5b5d" stroke-width="1.7"/>
<line x1="114.3" y1="1026.41" x2="121" y2="1026.41" stroke="#5a5b5d" stroke-width="1.7"/>
<line x1="111.9" y1="1016.90" x2="121" y2="1016.90" stroke="#5a5b5d" stroke-width="1.7"/>
<line x1="114.3" y1="1007.39" x2="121" y2="1007.39" stroke="#5a5b5d" stroke-width="1.7"/>
<line x1="114.3" y1="997.88" x2="121" y2="997.88" stroke="#5a5b5d" stroke-width="1.7"/>
<line x1="114.3" y1="988.37" x2="121" y2="988.37" stroke="#5a5b5d" stroke-width="1.7"/>
<line x1="114.3" y1="978.86" x2="121" y2="978.86" stroke="#5a5b5d" stroke-width="1.7"/>
<line x1="111.9" y1="969.35" x2="121" y2="969.35" stroke="#5a5b5d" stroke-width="1.7"/>
<line x1="114.3" y1="959.84" x2="121" y2="959.84" stroke="#5a5b5d" stroke-width="1.7"/>
<line x1="114.3" y1="950.33" x2="121" y2="950.33" stroke="#5a5b5d" stroke-width="1.7"/>
<line x1="114.3" y1="940.82" x2="121" y2="940.82" stroke="#5a5b5d" stroke-width="1.7"/>
<line x1="114.3" y1="931.31" x2="121" y2="931.31" stroke="#5a5b5d" stroke-width="1.7"/>
<line x1="111.9" y1="921.80" x2="121" y2="921.80" stroke="#5a5b5d" stroke-width="1.7"/>
<line x1="114.3" y1="912.29" x2="121" y2="912.29" stroke="#5a5b5d" stroke-width="1.7"/>
<line x1="114.3" y1="902.78" x2="121" y2="902.78" stroke="#5a5b5d" stroke-width="1.7"/>
<line x1="114.3" y1="893.27" x2="121" y2="893.27" stroke="#5a5b5d" stroke-width="1.7"/>
<line x1="114.3" y1="883.76" x2="121" y2="883.76" stroke="#5a5b5d" stroke-width="1.7"/>
<line x1="111.9" y1="874.25" x2="121" y2="874.25" stroke="#5a5b5d" stroke-width="1.7"/>
<line x1="114.3" y1="864.74" x2="121" y2="864.74" stroke="#5a5b5d" stroke-width="1.7"/>
<line x1="114.3" y1="855.23" x2="121" y2="855.23" stroke="#5a5b5d" stroke-width="1.7"/>
<line x1="114.3" y1="845.72" x2="121" y2="845.72" stroke="#5a5b5d" stroke-width="1.7"/>
<line x1="114.3" y1="836.21" x2="121" y2="836.21" stroke="#5a5b5d" stroke-width="1.7"/>
<line x1="111.9" y1="826.70" x2="121" y2="826.70" stroke="#5a5b5d" stroke-width="1.7"/>
<line x1="114.3" y1="817.19" x2="121" y2="817.19" stroke="#5a5b5d" stroke-width="1.7"/>
<line x1="114.3" y1="807.68" x2="121" y2="807.68" stroke="#5a5b5d" stroke-width="1.7"/>
<line x1="114.3" y1="798.17" x2="121" y2="798.17" stroke="#5a5b5d" stroke-width="1.7"/>
<line x1="114.3" y1="788.66" x2="121" y2="788.66" stroke="#5a5b5d" stroke-width="1.7"/>
<line x1="111.9" y1="779.15" x2="121" y2="779.15" stroke="#5a5b5d" stroke-width="1.7"/>
<line x1="114.3" y1="769.64" x2="121" y2="769.64" stroke="#5a5b5d" stroke-width="1.7"/>
<line x1="114.3" y1="760.13" x2="121" y2="760.13" stroke="#5a5b5d" stroke-width="1.7"/>
<line x1="114.3" y1="750.62" x2="121" y2="750.62" stroke="#5a5b5d" stroke-width="1.7"/>
<line x1="114.3" y1="741.11" x2="121" y2="741.11" stroke="#5a5b5d" stroke-width="1.7"/>
<line x1="111.9" y1="731.60" x2="121" y2="731.60" stroke="#5a5b5d" stroke-width="1.7"/>
<text x="79.51" y="1215.40" font-size="30.65" textLength="16.66" lengthAdjust="spacingAndGlyphs" fill="#231f20">0</text>
<text x="51.48" y="1167.85" font-size="30.65" textLength="49.99" lengthAdjust="spacingAndGlyphs" fill="#231f20">100</text>
<text x="51.48" y="1120.30" font-size="30.65" textLength="49.99" lengthAdjust="spacingAndGlyphs" fill="#231f20">200</text>
<text x="51.48" y="1072.75" font-size="30.65" textLength="49.99" lengthAdjust="spacingAndGlyphs" fill="#231f20">300</text>
<text x="51.48" y="1025.20" font-size="30.65" textLength="49.99" lengthAdjust="spacingAndGlyphs" fill="#231f20">400</text>
<text x="51.48" y="977.65" font-size="30.65" textLength="49.99" lengthAdjust="spacingAndGlyphs" fill="#231f20">500</text>
<text x="51.48" y="930.10" font-size="30.65" textLength="49.99" lengthAdjust="spacingAndGlyphs" fill="#231f20">600</text>
<text x="51.48" y="882.55" font-size="30.65" textLength="49.99" lengthAdjust="spacingAndGlyphs" fill="#231f20">700</text>
<text x="51.48" y="835.00" font-size="30.65" textLength="49.99" lengthAdjust="spacingAndGlyphs" fill="#231f20">800</text>
<text x="51.48" y="787.45" font-size="30.65" textLength="49.99" lengthAdjust="spacingAndGlyphs" fill="#231f20">900</text>
<text x="34.82" y="739.90" font-size="30.65" textLength="66.65" lengthAdjust="spacingAndGlyphs" fill="#231f20">1000</text>
<line x1="121.2" y1="730.90" x2="121.2" y2="1207.10" stroke="#58595b" stroke-width="1.6"/>
<rect x="131.80" y="789.20" width="43.90" height="417.90" fill="#ffffff" stroke="#6d6e71" stroke-width="3"/>
<rect x="175.70" y="808.40" width="43.90" height="398.70" fill="url(#hB)" stroke="#6d6e71" stroke-width="3"/>
<rect x="218.10" y="980.70" width="46.90" height="226.40" fill="#58595b"/>
<rect x="263.70" y="953.60" width="43.50" height="253.50" fill="#231f20" stroke="#58595b" stroke-width="3"/>
<rect x="328.30" y="873.30" width="43.90" height="333.80" fill="#ffffff" stroke="#6d6e71" stroke-width="3"/>
<rect x="372.20" y="938.00" width="43.90" height="269.10" fill="url(#hB)" stroke="#6d6e71" stroke-width="3"/>
<rect x="414.60" y="1024.50" width="46.90" height="182.60" fill="#58595b"/>
<rect x="460.20" y="1013.50" width="43.50" height="193.60" fill="#231f20" stroke="#58595b" stroke-width="3"/>
<rect x="524.90" y="1094.60" width="43.90" height="112.50" fill="#ffffff" stroke="#6d6e71" stroke-width="3"/>
<rect x="568.80" y="1125.40" width="43.90" height="81.70" fill="url(#hB)" stroke="#6d6e71" stroke-width="3"/>
<rect x="611.20" y="1136.70" width="46.90" height="70.40" fill="#58595b"/>
<rect x="656.80" y="1102.60" width="43.50" height="104.50" fill="#231f20" stroke="#58595b" stroke-width="3"/>
<rect x="721.10" y="1098.80" width="43.90" height="108.30" fill="#ffffff" stroke="#6d6e71" stroke-width="3"/>
<rect x="765.00" y="1131.40" width="43.90" height="75.70" fill="url(#hB)" stroke="#6d6e71" stroke-width="3"/>
<rect x="807.40" y="1146.60" width="46.90" height="60.50" fill="#58595b"/>
<rect x="853.00" y="1120.00" width="43.50" height="87.10" fill="#231f20" stroke="#58595b" stroke-width="3"/>
<line x1="153.70" y1="765.70" x2="153.70" y2="813.20" stroke="#808285" stroke-width="2.8"/>
<line x1="147.95" y1="765.70" x2="159.45" y2="765.70" stroke="#808285" stroke-width="3.2"/>
<line x1="147.95" y1="813.20" x2="159.45" y2="813.20" stroke="#808285" stroke-width="3.2"/>
<line x1="197.30" y1="776.40" x2="197.30" y2="840.00" stroke="#808285" stroke-width="2.8"/>
<line x1="191.55" y1="776.40" x2="203.05" y2="776.40" stroke="#808285" stroke-width="3.2"/>
<line x1="191.55" y1="840.00" x2="203.05" y2="840.00" stroke="#808285" stroke-width="3.2"/>
<line x1="241.00" y1="970.10" x2="241.00" y2="994.60" stroke="#808285" stroke-width="2.8"/>
<line x1="235.25" y1="970.10" x2="246.75" y2="970.10" stroke="#808285" stroke-width="3.2"/>
<line x1="235.25" y1="994.60" x2="246.75" y2="994.60" stroke="#808285" stroke-width="3.2"/>
<line x1="284.80" y1="921.30" x2="284.80" y2="986.10" stroke="#808285" stroke-width="2.8"/>
<line x1="279.05" y1="921.30" x2="290.55" y2="921.30" stroke="#808285" stroke-width="3.2"/>
<line x1="279.05" y1="986.10" x2="290.55" y2="986.10" stroke="#808285" stroke-width="3.2"/>
<line x1="350.60" y1="844.30" x2="350.60" y2="903.40" stroke="#808285" stroke-width="2.8"/>
<line x1="344.85" y1="844.30" x2="356.35" y2="844.30" stroke="#808285" stroke-width="3.2"/>
<line x1="344.85" y1="903.40" x2="356.35" y2="903.40" stroke="#808285" stroke-width="3.2"/>
<line x1="394.20" y1="920.30" x2="394.20" y2="955.40" stroke="#808285" stroke-width="2.8"/>
<line x1="388.45" y1="920.30" x2="399.95" y2="920.30" stroke="#808285" stroke-width="3.2"/>
<line x1="388.45" y1="955.40" x2="399.95" y2="955.40" stroke="#808285" stroke-width="3.2"/>
<line x1="437.40" y1="997.70" x2="437.40" y2="1053.40" stroke="#808285" stroke-width="2.8"/>
<line x1="431.65" y1="997.70" x2="443.15" y2="997.70" stroke="#808285" stroke-width="3.2"/>
<line x1="431.65" y1="1053.40" x2="443.15" y2="1053.40" stroke="#808285" stroke-width="3.2"/>
<line x1="481.00" y1="992.80" x2="481.00" y2="1033.50" stroke="#808285" stroke-width="2.8"/>
<line x1="475.25" y1="992.80" x2="486.75" y2="992.80" stroke="#808285" stroke-width="3.2"/>
<line x1="475.25" y1="1033.50" x2="486.75" y2="1033.50" stroke="#808285" stroke-width="3.2"/>
<line x1="547.00" y1="1079.50" x2="547.00" y2="1109.30" stroke="#808285" stroke-width="2.8"/>
<line x1="541.25" y1="1079.50" x2="552.75" y2="1079.50" stroke="#808285" stroke-width="3.2"/>
<line x1="541.25" y1="1109.30" x2="552.75" y2="1109.30" stroke="#808285" stroke-width="3.2"/>
<line x1="590.30" y1="1120.30" x2="590.30" y2="1130.60" stroke="#808285" stroke-width="2.8"/>
<line x1="584.55" y1="1120.30" x2="596.05" y2="1120.30" stroke="#808285" stroke-width="3.2"/>
<line x1="584.55" y1="1130.60" x2="596.05" y2="1130.60" stroke="#808285" stroke-width="3.2"/>
<line x1="634.20" y1="1127.70" x2="634.20" y2="1147.50" stroke="#808285" stroke-width="2.8"/>
<line x1="628.45" y1="1127.70" x2="639.95" y2="1127.70" stroke="#808285" stroke-width="3.2"/>
<line x1="628.45" y1="1147.50" x2="639.95" y2="1147.50" stroke="#808285" stroke-width="3.2"/>
<line x1="677.70" y1="1084.00" x2="677.70" y2="1120.30" stroke="#808285" stroke-width="2.8"/>
<line x1="671.95" y1="1084.00" x2="683.45" y2="1084.00" stroke="#808285" stroke-width="3.2"/>
<line x1="671.95" y1="1120.30" x2="683.45" y2="1120.30" stroke="#808285" stroke-width="3.2"/>
<line x1="743.50" y1="1093.20" x2="743.50" y2="1104.20" stroke="#808285" stroke-width="2.8"/>
<line x1="737.75" y1="1093.20" x2="749.25" y2="1093.20" stroke="#808285" stroke-width="3.2"/>
<line x1="737.75" y1="1104.20" x2="749.25" y2="1104.20" stroke="#808285" stroke-width="3.2"/>
<line x1="787.10" y1="1128.30" x2="787.10" y2="1135.60" stroke="#808285" stroke-width="2.8"/>
<line x1="781.35" y1="1128.30" x2="792.85" y2="1128.30" stroke="#808285" stroke-width="3.2"/>
<line x1="781.35" y1="1135.60" x2="792.85" y2="1135.60" stroke="#808285" stroke-width="3.2"/>
<line x1="830.30" y1="1143.80" x2="830.30" y2="1151.60" stroke="#808285" stroke-width="2.8"/>
<line x1="824.55" y1="1143.80" x2="836.05" y2="1143.80" stroke="#808285" stroke-width="3.2"/>
<line x1="824.55" y1="1151.60" x2="836.05" y2="1151.60" stroke="#808285" stroke-width="3.2"/>
<line x1="874.90" y1="1108.30" x2="874.90" y2="1131.40" stroke="#808285" stroke-width="2.8"/>
<line x1="869.15" y1="1108.30" x2="880.65" y2="1108.30" stroke="#808285" stroke-width="3.2"/>
<line x1="869.15" y1="1131.40" x2="880.65" y2="1131.40" stroke="#808285" stroke-width="3.2"/>
<line x1="120" y1="1207.10" x2="907" y2="1207.10" stroke="#231f20" stroke-width="2.7"/>
<text x="231.92" y="960.02" font-size="26.70" style='font-family:"DejaVu Sans",sans-serif;font-weight:bold;' transform="translate(238.90,0) scale(0.962,1) translate(-238.90,0)" fill="#231f20">*</text>
<text x="278.32" y="909.92" font-size="26.70" style='font-family:"DejaVu Sans",sans-serif;font-weight:bold;' transform="translate(285.30,0) scale(0.900,1) translate(-285.30,0)" fill="#231f20">*</text>
<text x="427.47" y="985.86" font-size="26.49" style='font-family:"DejaVu Sans",sans-serif;font-weight:bold;' transform="translate(434.40,0) scale(0.954,1) translate(-434.40,0)" fill="#231f20">*</text>
<text x="471.63" y="977.90" font-size="26.27" style='font-family:"DejaVu Sans",sans-serif;font-weight:bold;' transform="translate(478.50,0) scale(0.899,1) translate(-478.50,0)" fill="#231f20">*</text>
<text x="627.16" y="1120.48" font-size="26.92" style='font-family:"DejaVu Sans",sans-serif;font-weight:bold;' transform="translate(634.20,0) scale(0.962,1) translate(-634.20,0)" fill="#231f20">*</text>
<text x="824.64" y="1125.36" font-size="24.33" style='font-family:"DejaVu Sans",sans-serif;font-weight:bold;' transform="translate(831.00,0) scale(0.962,1) translate(-831.00,0)" fill="#231f20">*</text>
<text x="671.71" y="1061.04" font-size="23.55" style='font-family:"Liberation Serif",serif;' transform="translate(677.60,0) scale(1.211,1) translate(-677.60,0)" fill="#231f20">†</text>
<text x="869.01" y="1081.94" font-size="23.55" style='font-family:"Liberation Serif",serif;' transform="translate(874.90,0) scale(1.240,1) translate(-874.90,0)" fill="#231f20">†</text>
<text class="l" transform="translate(22.60,0) rotate(-90)" x="-1062.10" y="0" font-size="28.81" textLength="140.86" lengthAdjust="spacingAndGlyphs" fill="#3c3c3c">Length (µm)</text>
<text class="l" x="171.57" y="1253.20" font-size="29.08" textLength="101.49" lengthAdjust="spacingAndGlyphs" fill="#231f20">Jejunum</text>
<text class="l" x="382.42" y="1253.20" font-size="29.08" textLength="71.19" lengthAdjust="spacingAndGlyphs" fill="#231f20">Ileum</text>
<text class="l" x="564.77" y="1253.20" font-size="29.08" textLength="101.49" lengthAdjust="spacingAndGlyphs" fill="#231f20">Jejunum</text>
<text class="l" x="775.83" y="1253.20" font-size="29.08" textLength="70.87" lengthAdjust="spacingAndGlyphs" fill="#231f20">Ileum</text>
<rect x="792.1" y="704.50" width="16.3" height="15.9" fill="#fff" stroke="#58595b" stroke-width="3"/>
<rect x="792.1" y="744.20" width="16.3" height="15.9" fill="url(#hL2)" stroke="#58595b" stroke-width="3"/>
<rect x="792" y="783.80" width="17" height="16" fill="#58595b"/>
<rect x="792.1" y="823.90" width="16.3" height="15.9" fill="#231f20" stroke="#58595b" stroke-width="3"/>
<text class="l" x="815.34" y="720.30" font-size="29.08" textLength="83.63" lengthAdjust="spacingAndGlyphs" fill="#231f20">CONTR</text>
<text class="l" x="815.36" y="759.70" font-size="29.08" textLength="147.35" lengthAdjust="spacingAndGlyphs" fill="#231f20">CONTR -QCT</text>
<text class="l" x="813.59" y="799.20" font-size="29.08" textLength="57.92" lengthAdjust="spacingAndGlyphs" fill="#231f20">MTX</text>
<text class="l" x="813.95" y="839.20" font-size="29.08" textLength="113.49" lengthAdjust="spacingAndGlyphs" fill="#231f20">MTX-QCT</text>
</svg>
</body></html>
